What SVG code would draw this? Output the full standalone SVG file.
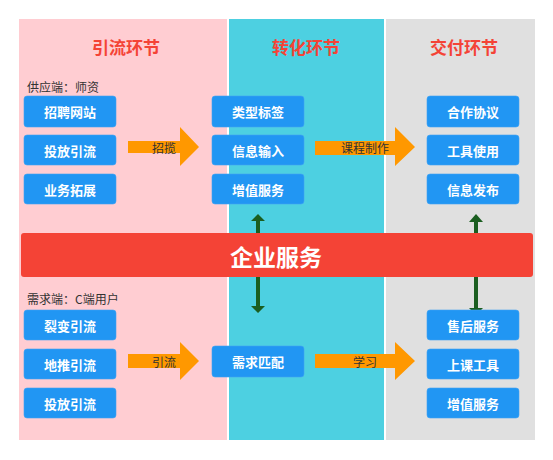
<svg xmlns="http://www.w3.org/2000/svg" width="553" height="460" viewBox="0 0 553 460">
<style>
.title{font-family:"Noto Sans CJK SC","Liberation Sans",sans-serif;font-size:17px;font-weight:bold;fill:#f44336;text-anchor:middle}
.side{font-family:"Noto Sans CJK SC","Liberation Sans",sans-serif;font-size:12px;fill:#333}
.box{fill:#2196f3;stroke:#3fa3f3;stroke-width:0.6}
.bt{font-family:"Noto Sans CJK SC","Liberation Sans",sans-serif;font-size:13px;font-weight:bold;fill:#fff;text-anchor:middle;dominant-baseline:central}
.arrow{fill:#ff9800}
.al{font-family:"Noto Sans CJK SC","Liberation Sans",sans-serif;font-size:12px;fill:#333;text-anchor:middle;dominant-baseline:central}
.g{fill:#1b5e20}
</style>
<rect width="553" height="460" fill="#fff"/>
<g id="panels">
<rect x="19" y="19" width="208" height="421" fill="#ffcdd2"/>
<rect x="229" y="19" width="155" height="421" fill="#4dd0e1"/>
<rect x="386" y="19" width="149" height="421" fill="#e0e0e0"/>
<text class="title" x="126" y="54">引流环节</text>
<text class="title" x="306" y="54">转化环节</text>
<text class="title" x="464" y="54">交付环节</text>
<text class="side" x="27" y="92">供应端：师资</text>
<text class="side" x="27" y="304">需求端：C端用户</text>
</g>
<g id="connectors">
<path class="arrow" d="M128,141 H180 V127 L199,147 L180,166 V153 H128 Z"/>
<text class="al" x="164" y="147">招揽</text>
<path class="arrow" d="M315,141 H395 V127 L415,147 L395,166 V155 H315 Z"/>
<text class="al" x="365" y="147">课程制作</text>
<path class="arrow" d="M128,354 H180 V342 L199,361 L180,380 V368 H128 Z"/>
<text class="al" x="164" y="361">引流</text>
<path class="arrow" d="M315,354 H395 V342 L415,361 L395,380 V368 H315 Z"/>
<text class="al" x="365" y="361">学习</text>
<path class="g" d="M258,214 L265,221 H260 V306 H265 L258,313 L251,306 H256 V221 H251 Z"/>
<path class="g" d="M476,214 L483,222 H478 V308 H483 L476,315 L469,308 H474 V222 H469 Z"/>
</g>
<g id="bar">
<rect x="21" y="233" width="512" height="44" rx="3" fill="#f44336"/>
<text x="276" y="256" font-family="Noto Sans CJK SC,Liberation Sans,sans-serif" font-size="23" font-weight="bold" fill="#fff" text-anchor="middle" dominant-baseline="central">企业服务</text>
</g>
<g id="n1"><rect class="box" x="24" y="96" width="92" height="31" rx="3"/><text class="bt" x="70" y="111">招聘网站</text></g>
<g id="n2"><rect class="box" x="24" y="135" width="92" height="30" rx="3"/><text class="bt" x="70" y="150">投放引流</text></g>
<g id="n3"><rect class="box" x="24" y="174" width="92" height="30" rx="3"/><text class="bt" x="70" y="189">业务拓展</text></g>
<g id="n4"><rect class="box" x="212" y="96" width="92" height="31" rx="3"/><text class="bt" x="258" y="111">类型标签</text></g>
<g id="n5"><rect class="box" x="212" y="135" width="92" height="30" rx="3"/><text class="bt" x="258" y="150">信息输入</text></g>
<g id="n6"><rect class="box" x="212" y="174" width="92" height="30" rx="3"/><text class="bt" x="258" y="189">增值服务</text></g>
<g id="n7"><rect class="box" x="427" y="96" width="92" height="31" rx="3"/><text class="bt" x="473" y="111">合作协议</text></g>
<g id="n8"><rect class="box" x="427" y="135" width="92" height="30" rx="3"/><text class="bt" x="473" y="150">工具使用</text></g>
<g id="n9"><rect class="box" x="427" y="174" width="92" height="30" rx="3"/><text class="bt" x="473" y="189">信息发布</text></g>
<g id="n10"><rect class="box" x="24" y="310" width="92" height="30" rx="3"/><text class="bt" x="70" y="325">裂变引流</text></g>
<g id="n11"><rect class="box" x="24" y="349" width="92" height="30" rx="3"/><text class="bt" x="70" y="364">地推引流</text></g>
<g id="n12"><rect class="box" x="24" y="388" width="92" height="30" rx="3"/><text class="bt" x="70" y="403">投放引流</text></g>
<g id="n13"><rect class="box" x="212" y="346" width="92" height="31" rx="3"/><text class="bt" x="258" y="361">需求匹配</text></g>
<g id="n14"><rect class="box" x="427" y="310" width="92" height="30" rx="3"/><text class="bt" x="473" y="325">售后服务</text></g>
<g id="n15"><rect class="box" x="427" y="349" width="92" height="30" rx="3"/><text class="bt" x="473" y="364">上课工具</text></g>
<g id="n16"><rect class="box" x="427" y="388" width="92" height="30" rx="3"/><text class="bt" x="473" y="403">增值服务</text></g>
</svg>
